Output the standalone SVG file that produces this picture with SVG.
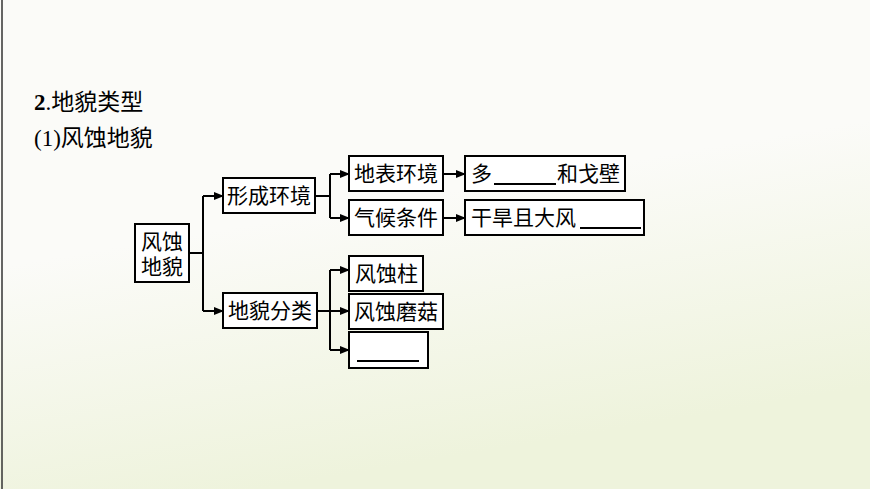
<svg xmlns="http://www.w3.org/2000/svg" width="870" height="489" viewBox="0 0 870 489">
<defs>
<marker id="ah" markerWidth="10" markerHeight="8" refX="9" refY="4" orient="auto" markerUnits="userSpaceOnUse"><path d="M0,0 L10,4 L0,8 z" fill="#000"/></marker>
<linearGradient id="bg" x1="0" y1="0" x2="0.3" y2="1"><stop offset="0.5" stop-color="#fbfbf8"/><stop offset="1" stop-color="#eef3dc"/></linearGradient>
<style>
.b{fill:#fff;stroke:#000;stroke-width:2}
.t{font-family:"Liberation Serif","Noto Sans CJK SC",serif;font-size:21px;fill:#000}
.c{fill:none;stroke:#000;stroke-width:2}
.u{stroke:#000;stroke-width:2}
</style>
</defs>
<rect width="870" height="489" fill="url(#bg)"/>
<line x1="2" y1="0" x2="2" y2="489" stroke="#333" stroke-width="1.5"/>
<text x="34" y="110" class="t" style="font-size:23px"><tspan font-weight="bold">2</tspan>.地貌类型</text>
<text x="34" y="146" class="t" style="font-size:23px">(1)风蚀地貌</text>
<g id="connectors">
<path class="c" d="M189,253 H203 M203,196 V311"/>
<path class="c" d="M203,196 H223" marker-end="url(#ah)"/>
<path class="c" d="M203,311 H223" marker-end="url(#ah)"/>
<path class="c" d="M315,196 H330 M330,174 V218"/>
<path class="c" d="M330,174 H349" marker-end="url(#ah)"/>
<path class="c" d="M330,218 H349" marker-end="url(#ah)"/>
<path class="c" d="M317,311 H330 M330,270 V350"/>
<path class="c" d="M330,270 H349" marker-end="url(#ah)"/>
<path class="c" d="M330,311 H349" marker-end="url(#ah)"/>
<path class="c" d="M330,350 H349" marker-end="url(#ah)"/>
<path class="c" d="M443,174 H465" marker-end="url(#ah)"/>
<path class="c" d="M443,218 H465" marker-end="url(#ah)"/>
</g>
<g id="n1"><rect class="b" x="135" y="224" width="54" height="58"/><text class="t" x="162" y="249" text-anchor="middle">风蚀</text><text class="t" x="162" y="274" text-anchor="middle">地貌</text></g>
<g id="n2"><rect class="b" x="223" y="178" width="92" height="35"/><text class="t" x="269" y="203" text-anchor="middle">形成环境</text></g>
<g id="n3"><rect class="b" x="223" y="293" width="94" height="35"/><text class="t" x="270" y="318" text-anchor="middle">地貌分类</text></g>
<g id="n4"><rect class="b" x="349" y="156" width="94" height="35"/><text class="t" x="396" y="181" text-anchor="middle">地表环境</text></g>
<g id="n5"><rect class="b" x="349" y="200" width="94" height="35"/><text class="t" x="396" y="225" text-anchor="middle">气候条件</text></g>
<g id="n6"><rect class="b" x="465" y="156" width="160" height="35"/><text class="t" x="471" y="181">多</text><line class="u" x1="494" y1="184" x2="556" y2="184"/><text class="t" x="557" y="181">和戈壁</text></g>
<g id="n7"><rect class="b" x="465" y="200" width="179" height="35"/><text class="t" x="471" y="225">干旱且大风</text><line class="u" x1="580" y1="228" x2="641" y2="228"/></g>
<g id="n8"><rect class="b" x="349" y="256" width="74" height="35"/><text class="t" x="355" y="281">风蚀柱</text></g>
<g id="n9"><rect class="b" x="349" y="294" width="94" height="35"/><text class="t" x="396" y="319" text-anchor="middle">风蚀磨菇</text></g>
<g id="n10"><rect class="b" x="349" y="332" width="79" height="36"/><line class="u" x1="357" y1="361" x2="419" y2="361"/></g>
</svg>
